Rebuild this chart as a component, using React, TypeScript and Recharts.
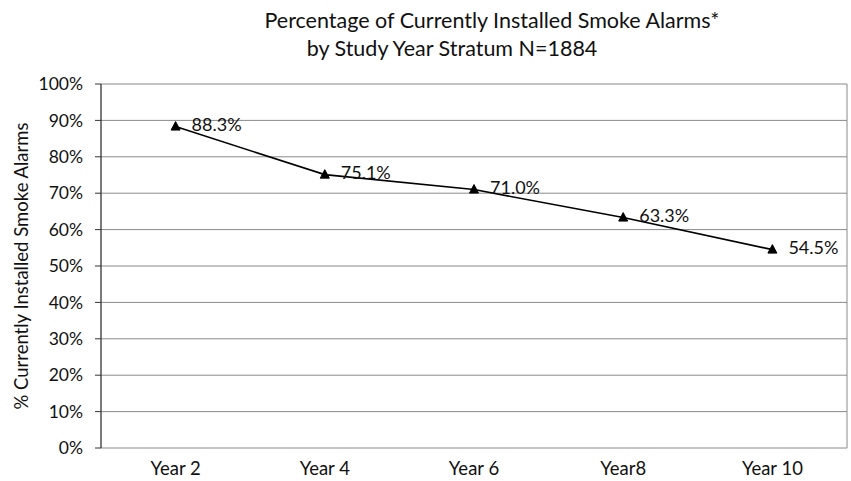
import React from "react";
import {
  LineChart,
  Line,
  XAxis,
  YAxis,
  CartesianGrid,
  ReferenceLine,
  LabelList,
  Customized,
} from "recharts";

const categories = ["Year 2", "Year 4", "Year 6", "Year8", "Year 10"];
const values = [88.3, 75.1, 71.0, 63.3, 54.5];
const valueLabels = ["88.3%", "75.1%", "71.0%", "63.3%", "54.5%"];
const yTicks = [0, 10, 20, 30, 40, 50, 60, 70, 80, 90, 100];
const boundaryTicks = [-0.5, 0.5, 1.5, 2.5, 3.5, 4.5];
const centerTicks = [0, 1, 2, 3, 4];

const titleLine1 = "Percentage of Currently Installed Smoke Alarms*";
const titleLine2 = "by Study Year Stratum N=1884";
const yAxisTitle = "% Currently Installed Smoke Alarms";

const data = categories.map((c, i) => ({
  idx: i,
  cat: c,
  value: values[i],
  label: valueLabels[i],
}));

const FONT = "Lato, 'Open Sans', sans-serif";

const Triangle = (props: any) => {
  const { cx, cy } = props;
  if (cx == null || cy == null) return null;
  return (
    <polygon
      points={`${cx},${cy - 5} ${cx - 4.5},${cy + 3.5} ${cx + 4.5},${cy + 3.5}`}
      fill="#000"
      stroke="#000"
    />
  );
};

const ValueLabel = (props: any) => {
  const { x, y, value } = props;
  return (
    <text
      x={x + 16}
      y={y - 3}
      fontSize={18}
      fontFamily={FONT}
      fill="#111"
      textAnchor="start"
      dominantBaseline="central"
    >
      {value}
    </text>
  );
};

const Titles = () => (
  <g fontFamily={FONT} fill="#111">
    <text x={492} y={28} fontSize={21.5} textAnchor="middle">
      {titleLine1}
    </text>
    <text x={452} y={56} fontSize={21.5} textAnchor="middle">
      {titleLine2}
    </text>
    <text
      x={21}
      y={266}
      fontSize={18.5}
      textAnchor="middle"
      dominantBaseline="central"
      transform="rotate(-90 21 266)"
    >
      {yAxisTitle}
    </text>
  </g>
);

export default function App() {
  return (
    <div style={{ position: "absolute", left: 0, top: 0, background: "#fff" }}>
      <LineChart
        width={851}
        height={481}
        data={data}
        margin={{ top: 84, right: 4, bottom: 3, left: 11 }}
      >
        <CartesianGrid vertical={false} stroke="#8a8a8a" strokeWidth={1} />
        <XAxis
          xAxisId="bound"
          dataKey="idx"
          type="number"
          domain={[-0.5, 4.5]}
          ticks={boundaryTicks}
          tickFormatter={() => ""}
          height={0}
          tickSize={6}
          axisLine={{ stroke: "#333", strokeWidth: 1.3 }}
          tickLine={{ stroke: "#333" }}
          allowDataOverflow
        />
        <XAxis
          xAxisId="main"
          dataKey="idx"
          type="number"
          domain={[-0.5, 4.5]}
          ticks={centerTicks}
          tickFormatter={(v: number) => categories[v]}
          height={30}
          tickSize={6}
          tickMargin={8}
          axisLine={false}
          tickLine={false}
          tick={{ fontSize: 18.5, fontFamily: FONT, fill: "#111" }}
          interval={0}
        />
        <YAxis
          domain={[0, 100]}
          ticks={yTicks}
          tickFormatter={(v: number) => `${v}%`}
          width={90}
          tickSize={6}
          tickMargin={12}
          axisLine={{ stroke: "#333", strokeWidth: 1.3 }}
          tickLine={{ stroke: "#333" }}
          tick={{ fontSize: 17.5, fontFamily: FONT, fill: "#111" }}
          interval={0}
        />
        <ReferenceLine xAxisId="bound" x={4.5} stroke="#8a8a8a" />
        <Line
          xAxisId="main"
          type="linear"
          dataKey="value"
          stroke="#000"
          strokeWidth={1.6}
          dot={<Triangle />}
          activeDot={false}
          isAnimationActive={false}
        >
          <LabelList dataKey="label" content={<ValueLabel />} />
        </Line>
        <Customized component={Titles} />
      </LineChart>
    </div>
  );
}
